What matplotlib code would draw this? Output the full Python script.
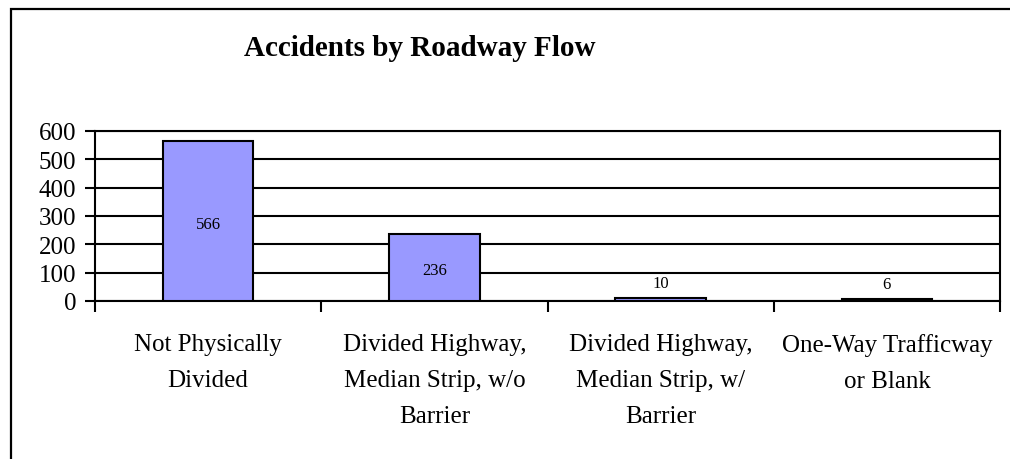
import matplotlib.pyplot as plt
from matplotlib.patches import Rectangle

categories = ['Not Physically\nDivided', 'Divided Highway,\nMedian Strip, w/o\nBarrier',
              'Divided Highway,\nMedian Strip, w/\nBarrier', 'One-Way Trafficway\nor Blank']
accidents = [566, 236, 10, 6]
yticks = [0, 100, 200, 300, 400, 500, 600]

plt.rcParams['font.family'] = ['Liberation Serif', 'DejaVu Serif']

fig = plt.figure(figsize=(10.1, 4.6), dpi=100)
ax = fig.add_axes([95 / 1010, 1 - 302 / 460, 905 / 1010, 170 / 460])

# outer chart frame (top and left edges visible)
fig.patches.append(Rectangle((11 / 1010, -0.1), 1.2, 1 - 10 / 460 + 0.1, transform=fig.transFigure,
                             fill=False, edgecolor='black', linewidth=1.6))

x = list(range(len(categories)))
bars = ax.bar(x, accidents, width=0.4, color='#9999FF', edgecolor='black', linewidth=1.5, zorder=3)

for i, v in enumerate(accidents):
    if v > 100:
        ax.text(i, v / 2 - 10, str(v), ha='center', va='center', fontsize=12, zorder=4)
    else:
        ax.annotate(str(v), (i, v), xytext=(0, 5), textcoords='offset points',
                    ha='center', va='bottom', fontsize=12)

ax.set_xlim(-0.5, len(categories) - 0.5)
ax.set_ylim(0, 600)
ax.set_yticks(yticks)
ax.tick_params(axis='y', labelsize=18, length=7.5, width=1.5, pad=6)
ax.yaxis.grid(True, color='black', linewidth=1.5, zorder=0)

ax.set_xticks(x)
ax.set_xticklabels(categories, fontsize=18, linespacing=1.82)
ax.tick_params(axis='x', which='major', length=0, pad=23)
ax.set_xticks([i - 0.5 for i in range(len(categories) + 1)], minor=True)
ax.tick_params(axis='x', which='minor', length=8, width=1.5, direction='out')

for s in ax.spines.values():
    s.set_linewidth(1.5)

fig.text(420 / 1010, 1 - 48 / 460, 'Accidents by Roadway Flow', ha='center', va='center',
         fontsize=21, fontweight='bold')

plt.savefig('out.png')
